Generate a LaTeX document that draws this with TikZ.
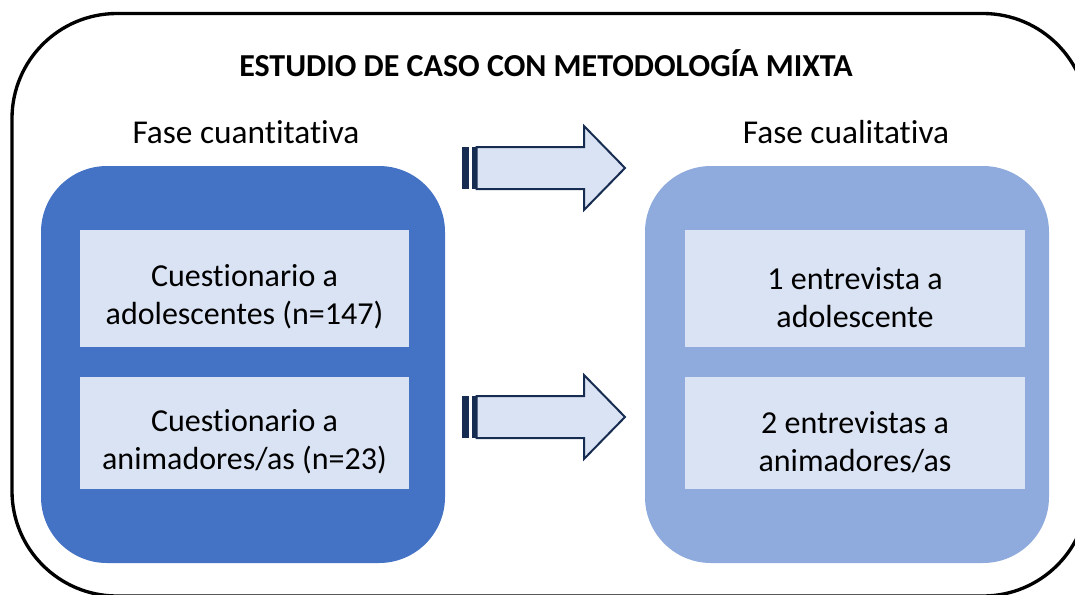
\documentclass[tikz,border=0pt]{standalone}
\usepackage{fontspec}
\setmainfont{Carlito}[RawFeature={-liga;-clig;-dlig}]
\definecolor{darkblue}{HTML}{4472C4}
\definecolor{midblue}{HTML}{8FAADC}
\definecolor{paleblue}{HTML}{DAE3F3}
\definecolor{navy}{HTML}{172C51}
\begin{document}
\begin{tikzpicture}[x=0.75pt,y=-0.75pt,
  bigbox/.style={rectangle, rounded corners=49.5pt, minimum width=303pt, minimum height=297.75pt, inner sep=0pt},
  innerbox/.style={rectangle, fill=paleblue, inner sep=0pt},
  boxtext/.style={inner sep=0pt, align=center, font=\fontsize{24}{28.5}\selectfont},
  phase/.style={font=\fontsize{25}{30}\selectfont, anchor=base, inner sep=0pt},
  fatarrow/.style={draw=navy, fill=paleblue, line width=1.5pt, line join=miter},
  stripe/.style={fill=navy, draw=none}]
\path[use as bounding box] (0,0) rectangle (1075,594);
\clip (0,0) rectangle (1075,594);
% outer frame
\draw[line width=2.5pt, rounded corners=78.75pt] (12,13.5) rectangle (1088,596);
% title
\node[anchor=base, inner sep=0pt, font=\bfseries\fontsize{24}{28}\selectfont] (title) at (546,76) {ESTUDIO DE CASO CON METODOLOGÍA MIXTA};
% phase labels
\node[phase] (lq) at (246,143) {Fase cuantitativa};
\node[phase] (rq) at (846,143) {Fase cualitativa};
% big boxes
\node[bigbox, fill=darkblue] (left) at (243,364.5) {};
\node[bigbox, fill=midblue] (right) at (847,364.5) {};
% inner boxes
\node[innerbox, minimum width=246.75pt, minimum height=87.75pt] (l1) at (244.5,288.5) {};
\node[innerbox, minimum width=246.75pt, minimum height=84pt] (l2) at (244.5,433) {};
\node[innerbox, minimum width=255pt, minimum height=87.75pt] (r1) at (855,288.5) {};
\node[innerbox, minimum width=255pt, minimum height=84pt] (r2) at (855,433) {};
\node[boxtext] (l1t) at ([yshift=-6.5pt]l1.center) {Cuestionario a\\adolescentes (n=147)};
\node[boxtext] (l2t) at ([yshift=-6.5pt]l2.center) {Cuestionario a\\animadores/as (n=23)};
\node[boxtext] (r1t) at ([yshift=-6.5pt]r1.center) {1 entrevista a\\adolescente};
\node[boxtext] (r2t) at ([yshift=-6.5pt]r2.center) {2 entrevistas a\\animadores/as};
% striped arrows
\foreach \c in {168,417}{
  \fill[stripe] (462,\c-21) rectangle (469,\c+21);
  \fill[stripe] (472,\c-21) rectangle (476.5,\c+21);
  \draw[fatarrow] (476.5,\c-21) -- (584,\c-21) -- (584,\c-42) -- (625,\c) -- (584,\c+42) -- (584,\c+21) -- (476.5,\c+21) -- cycle;
}
\end{tikzpicture}
\end{document}
